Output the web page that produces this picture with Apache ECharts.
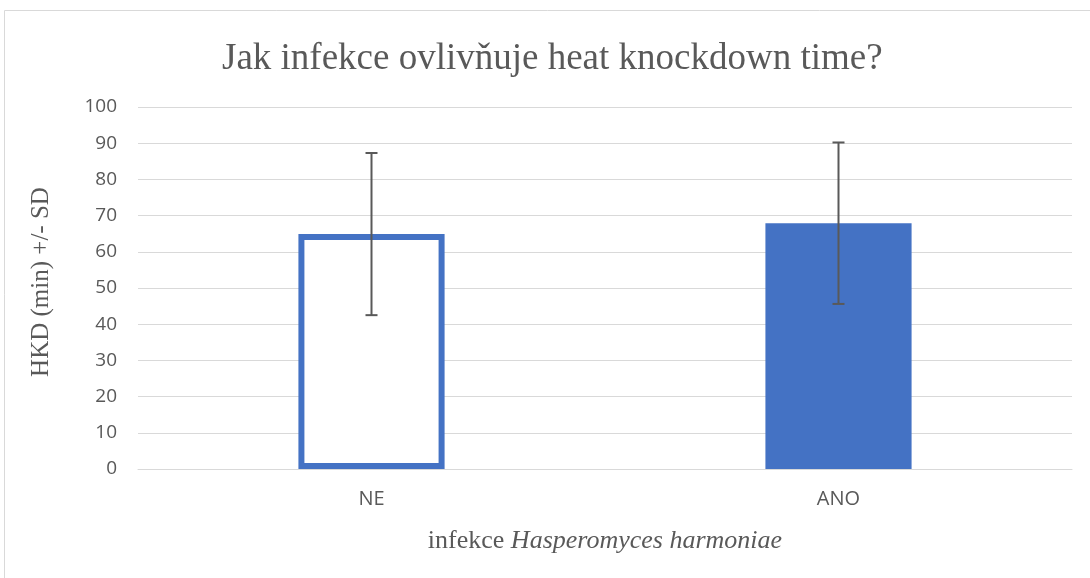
<!DOCTYPE html>
<html lang="cs">
  <head>
    <meta charset="UTF-8" />
    <title>HKD</title>
    <style>
      body {
        margin: 0;
        background: #fff;
      }
      #chart {
        width: 1090px;
        height: 578px;
      }
    </style>
  </head>
  <body>
    <div id="chart"></div>
    <script src="https://cdn.jsdelivr.net/npm/echarts@6/dist/echarts.min.js"></script>
    <script>
      const categories = ["NE", "ANO"];
      const means = [64.9, 67.9];
      const sds = [22.4, 22.3];
      const yTicks = { min: 0, max: 100, step: 10 };

      const blue = "#4472C4";
      const grey = "#595959";
      const gridGrey = "#d9d9d9";

      const chart = echarts.init(document.querySelector("#chart"));

      const barData = means.map((v, i) => ({
        value: v,
        itemStyle:
          i === 0
            ? { color: "#ffffff", borderColor: blue, borderWidth: 6 }
            : { color: blue },
      }));

      const errData = means.map((v, i) => [i, v - sds[i], v + sds[i]]);

      chart.setOption({
        animation: false,
        graphic: [
          {
            type: "rect",
            shape: { x: 4.5, y: 10.5, width: 1200, height: 700 },
            style: { fill: "none", stroke: gridGrey, lineWidth: 1 },
            silent: true,
          },
        ],
        title: {
          text: "Jak infekce ovlivňuje heat knockdown time?",
          left: 217,
          top: 36,
          textStyle: {
            fontFamily: "Liberation Serif",
            fontWeight: "normal",
            fontSize: 37,
            color: grey,
          },
        },
        grid: { left: 138, right: 18, top: 107, bottom: 109 },
        xAxis: {
          type: "category",
          data: categories,
          axisLine: { lineStyle: { color: gridGrey, width: 1 } },
          axisTick: { show: false },
          axisLabel: {
            margin: 20,
            color: grey,
            fontSize: 20,
            fontFamily: "Open Sans",
          },
          name: "{a|infekce }{b|Hasperomyces harmoniae}",
          nameLocation: "middle",
          nameGap: 59,
          nameTextStyle: {
            rich: {
              a: { fontFamily: "Liberation Serif", fontSize: 26, color: grey },
              b: {
                fontFamily: "Liberation Serif",
                fontSize: 26,
                fontStyle: "italic",
                color: grey,
              },
            },
          },
        },
        yAxis: {
          type: "value",
          min: yTicks.min,
          max: yTicks.max,
          interval: yTicks.step,
          axisLine: { show: false },
          axisTick: { show: false },
          splitLine: { lineStyle: { color: gridGrey, width: 1 } },
          axisLabel: {
            margin: 21,
            color: grey,
            fontSize: 19,
            fontFamily: "Open Sans",
          },
          name: "HKD (min) +/- SD",
          nameLocation: "middle",
          nameGap: 84,
          nameTextStyle: {
            fontFamily: "Liberation Serif",
            fontSize: 25,
            color: grey,
            padding: [0, 0, 0, 12],
          },
        },
        series: [
          {
            type: "bar",
            data: barData,
            barWidth: "31.3%",
          },
          {
            type: "custom",
            data: errData,
            z: 10,
            renderItem: function (params, api) {
              const x = api.value(0);
              const lo = api.coord([x, api.value(1)]);
              const hi = api.coord([x, api.value(2)]);
              const cap = 6;
              const style = { stroke: grey, lineWidth: 2 };
              return {
                type: "group",
                children: [
                  {
                    type: "line",
                    shape: { x1: lo[0], y1: lo[1], x2: hi[0], y2: hi[1] },
                    style: style,
                  },
                  {
                    type: "line",
                    shape: { x1: lo[0] - cap, y1: lo[1], x2: lo[0] + cap, y2: lo[1] },
                    style: style,
                  },
                  {
                    type: "line",
                    shape: { x1: hi[0] - cap, y1: hi[1], x2: hi[0] + cap, y2: hi[1] },
                    style: style,
                  },
                ],
              };
            },
          },
        ],
      });
    </script>
  </body>
</html>
